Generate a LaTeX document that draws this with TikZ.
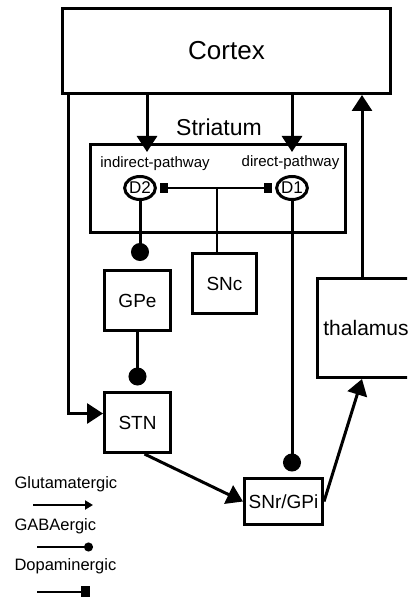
\documentclass[tikz,border=0pt]{standalone}
\usepackage{fontspec}
\setmainfont{Liberation Sans}
\usetikzlibrary{arrows.meta,shapes.geometric}

\newcommand{\fsz}[1]{\fontsize{#1bp}{#1bp}\selectfont}

\begin{document}
\begin{tikzpicture}[x=1bp,y=-1bp,
  box/.style={draw,line width=3bp,inner sep=0pt},
  recep/.style={draw,ellipse,line width=3bp,inner sep=0pt,minimum width=27bp,minimum height=23bp,font=\fsz{17}},
  glu/.style={line width=3bp,-{Triangle[length=16bp,width=20bp]}},
  gaba/.style={line width=3bp,-{Circle[length=18bp]}},
  dopa/.style={line width=1.5bp,-{Rectangle[length=8bp,width=10bp]}}]
  \useasboundingbox (0,0) rectangle (407,597);
  \clip (0,0) rectangle (407,597);

  \node[box,minimum width=328bp,minimum height=85bp,font=\fsz{26}] (cortex) at (226.5,51) {Cortex};
  \node[font=\fsz{23}] (striatumlabel) at (219,127) {Striatum};
  \node[box,minimum width=255bp,minimum height=88bp] (striatum) at (218,188.5) {};
  \node[font=\fsz{15}] (indirlabel) at (155,164) {indirect-pathway};
  \node[font=\fsz{15}] (dirlabel) at (290.5,163) {direct-pathway};
  \node[recep] (d2) at (140,188) {D2};
  \node[recep] (d1) at (292,188) {D1};

  \node[box,minimum width=66bp,minimum height=60bp,font=\fsz{19}] (gpe) at (137.5,300.5) {GPe};
  \node[box,minimum width=64bp,minimum height=60bp,font=\fsz{19}] (snc) at (224.5,283.5) {SNc};
  \node[box,minimum width=66bp,minimum height=60bp,font=\fsz{19}] (stn) at (137.5,422.5) {STN};
  \node[box,minimum width=78bp,minimum height=46bp,font=\fsz{19}] (snr) at (283.5,501.5) {SNr/GPi};
  \node[box,minimum width=97bp,minimum height=99bp,font=\fsz{21}] (thal) at (366,328) {thalamus};

  \coordinate (indir) at (147,152);
  \coordinate (dir) at (292,152);
  \coordinate (hub) at (217,188);
  \coordinate (thalup) at ([xshift=-4bp]thal.north);

  \draw[glu] (cortex.south -| indir) -- (indir);
  \draw[glu] (cortex.south -| dir) -- (dir);
  \draw[glu] ([xshift=7.5bp]cortex.south west) |- ([yshift=9bp]stn.west);
  \draw[glu] ([xshift=7bp]stn.south) -- (snr.west);
  \draw[glu] (snr.east) -- ([xshift=-4bp]thal.south);
  \draw[glu] (thalup) -- (thalup |- cortex.south);

  \draw[gaba,shorten >=8bp] (d2) -- (d2 |- gpe.north);
  \draw[gaba,shorten >=5.5bp] (gpe) -- (stn);
  \draw[gaba,shorten >=5.5bp] (d1) -- (d1 |- snr.north);

  \draw[dopa,shorten >=3.5bp] (hub) -- (d2);
  \draw[dopa,shorten >=3.5bp] (hub) -- (d1);
  \draw[line width=1.5bp] (hub) -- (hub |- snc.north);

  \node[anchor=base west,font=\fsz{16.5}] (glutext) at (11,488) {Glutamatergic};
  \node[anchor=base west,font=\fsz{16.5}] (gabatext) at (11,530) {GABAergic};
  \node[anchor=base west,font=\fsz{16.5}] (dopatext) at (11,570) {Dopaminergic};
  \coordinate (glua) at (33,505);
  \coordinate (glub) at (93,505);
  \coordinate (gabaa) at (37,547);
  \coordinate (gabab) at (93,547);
  \coordinate (dopaa) at (37,592);
  \coordinate (dopab) at (90,592);
  \draw[line width=2bp,-{Triangle[length=8bp,width=9bp]}] (glua) -- (glub);
  \draw[line width=2bp,-{Circle[length=9bp]}] (gabaa) -- (gabab);
  \draw[line width=2bp,-{Rectangle[length=9bp,width=12bp]}] (dopaa) -- (dopab);
\end{tikzpicture}
\end{document}
